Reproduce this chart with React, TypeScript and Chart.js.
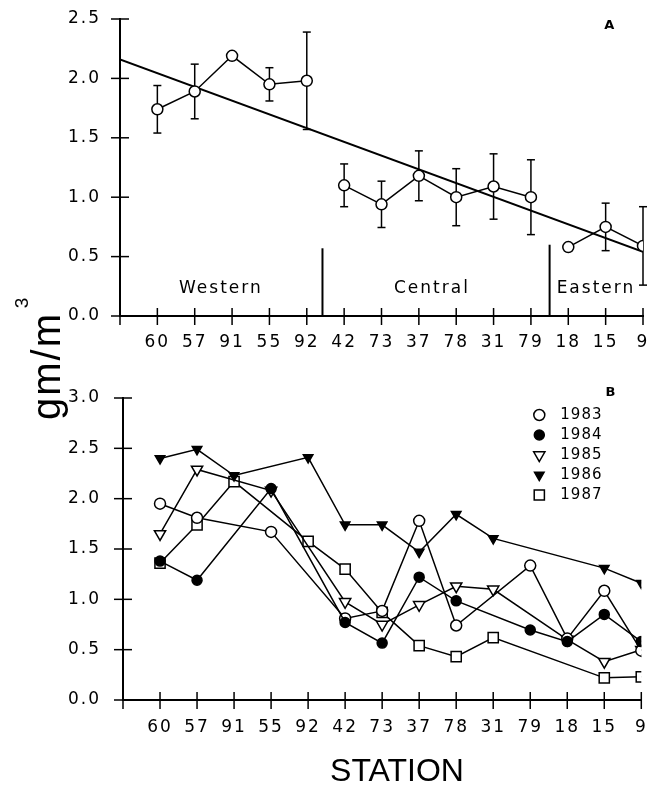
import React, { useEffect, useRef } from 'react';
import { Chart, registerables } from 'chart.js';

Chart.register(...registerables);

// ---------------- data ----------------
const stations = ['60', '57', '91', '55', '92', '42', '73', '37', '78', '31', '79', '18', '15', '9'];
const regionOfStation = [
  'Western', 'Western', 'Western', 'Western', 'Western',
  'Central', 'Central', 'Central', 'Central', 'Central', 'Central',
  'Eastern', 'Eastern', 'Eastern',
];
const regionNames = ['Western', 'Central', 'Eastern'];
const regionLabelX = [2.7, 8.35, 12.74];
const regionLabelY = 0.235;
const dividerX = [5.42, 11.5];
const dividerTop = [0.57, 0.6];

// Panel A: means and +/- error
const meanA = [1.74, 1.89, 2.19, 1.95, 1.98, 1.1, 0.94, 1.18, 1.0, 1.09, 1.0, 0.58, 0.75, 0.59];
const errA = [0.2, 0.23, null, 0.14, 0.41, 0.18, 0.195, 0.21, 0.24, 0.275, 0.315, null, 0.2, 0.33];
const regressionStart = 2.16; // value at the origin
const regressionEnd = 0.54; // value at the last station

const xTickValues = [0, ...stations.map((_, i) => i + 1)];
const yTicksA = [0, 0.5, 1, 1.5, 2, 2.5];
const yTicksB = [0, 0.5, 1, 1.5, 2, 2.5, 3];

// Panel B: yearly values
const years = ['1983', '1984', '1985', '1986', '1987'];
const y1983 = [1.95, 1.81, null, 1.67, null, 0.81, 0.885, 1.78, 0.74, null, 1.335, 0.61, 1.085, 0.49];
const y1984 = [1.38, 1.19, null, 2.1, null, 0.77, 0.565, 1.22, 0.985, null, 0.695, 0.58, 0.85, 0.58];
const y1985 = [1.65, 2.29, null, 2.08, null, 0.975, 0.75, 0.945, 1.13, 1.1, null, 0.6, 0.38, 0.5];
const y1986 = [2.4, 2.49, 2.23, null, 2.41, 1.74, 1.74, 1.47, 1.845, 1.605, null, null, 1.31, 1.16];
const y1987 = [1.36, 1.74, 2.17, null, 1.575, 1.3, 0.87, 0.54, 0.43, 0.62, null, null, 0.22, 0.23];
const seriesB = [y1983, y1984, y1985, y1986, y1987];

// ---------------- styles ----------------
const markers = [
  { style: 'circle', fill: '#fff', r: 5.5, rot: 0, order: 2 },
  { style: 'circle', fill: '#000', r: 5, rot: 0, order: 0 },
  { style: 'triangle', fill: '#fff', r: 6.5, rot: 180, order: 3 },
  { style: 'triangle', fill: '#000', r: 5.5, rot: 180, order: 1 },
  { style: 'rect', fill: '#fff', r: 7.2, rot: 0, order: 4 },
];
const TICK_FONT = { family: 'DejaVu Sans', size: 17 };

function line(ctx: CanvasRenderingContext2D, x1: number, y1: number, x2: number, y2: number) {
  ctx.beginPath();
  ctx.moveTo(x1, y1);
  ctx.lineTo(x2, y2);
  ctx.stroke();
}

function drawSymbol(ctx: CanvasRenderingContext2D, m: any, x: number, y: number) {
  ctx.beginPath();
  if (m.style === 'circle') {
    ctx.arc(x, y, m.r, 0, Math.PI * 2);
  } else if (m.style === 'triangle') {
    let rad = (m.rot * Math.PI) / 180;
    for (let k = 0; k < 3; k++) {
      const px = x + Math.sin(rad) * m.r;
      const py = y - Math.cos(rad) * m.r;
      if (k === 0) ctx.moveTo(px, py);
      else ctx.lineTo(px, py);
      rad += (2 * Math.PI) / 3;
    }
    ctx.closePath();
  } else {
    const s = Math.SQRT1_2 * m.r;
    ctx.rect(x - s, y - s, 2 * s, 2 * s);
  }
  ctx.fillStyle = m.fill;
  ctx.fill();
  ctx.lineWidth = 1.5;
  ctx.strokeStyle = '#000';
  ctx.stroke();
}

const spacingPlugin = {
  id: 'spacing',
  beforeDraw(chart: any) {
    chart.ctx.letterSpacing = '2px';
  },
};

const crossTicksPlugin = {
  id: 'crossTicks',
  afterDraw(chart: any) {
    const { ctx, chartArea, scales } = chart;
    ctx.save();
    ctx.strokeStyle = '#000';
    ctx.lineWidth = 1.5;
    scales.x.ticks.forEach((t: any) => {
      const px = scales.x.getPixelForValue(t.value);
      line(ctx, px, chartArea.bottom - 8, px, chartArea.bottom + 9);
    });
    scales.y.ticks.forEach((t: any) => {
      const py = scales.y.getPixelForValue(t.value);
      line(ctx, chartArea.left - 9, py, chartArea.left + 9, py);
    });
    ctx.restore();
  },
};

// Label offsets are set through tickLength (tick marks themselves are drawn by crossTicksPlugin)
function baseOptions(yMax: number, yTicks: number[], yWidth: number, yGap: number, xGap: number, xHeight: number, padding: any) {
  return {
    animation: false,
    responsive: false,
    maintainAspectRatio: false,
    layout: { padding },
    plugins: { legend: { display: false }, tooltip: { enabled: false } },
    scales: {
      x: {
        type: 'linear',
        min: 0,
        max: stations.length,
        afterBuildTicks: (s: any) => {
          s.ticks = xTickValues.map((v) => ({ value: v }));
        },
        afterFit: (s: any) => {
          s.height = xHeight;
        },
        ticks: {
          autoSkip: false,
          maxRotation: 0,
          minRotation: 0,
          padding: 0,
          color: '#000',
          font: TICK_FONT,
          callback: (v: any) => (v >= 1 ? stations[Math.round(v) - 1] : ''),
        },
        grid: { display: false, drawTicks: true, tickLength: xGap },
        border: { display: true, color: '#000', width: 2 },
      },
      y: {
        type: 'linear',
        min: 0,
        max: yMax,
        afterBuildTicks: (s: any) => {
          s.ticks = yTicks.map((v) => ({ value: v }));
        },
        afterFit: (s: any) => {
          s.width = yWidth;
        },
        ticks: {
          padding: 0,
          color: '#000',
          font: TICK_FONT,
          callback: (v: any) => Number(v).toFixed(1),
        },
        grid: { display: false, drawTicks: true, tickLength: yGap },
        border: { display: true, color: '#000', width: 2 },
      },
    },
  };
}

export default function App() {
  const refA = useRef<HTMLCanvasElement>(null);
  const refB = useRef<HTMLCanvasElement>(null);

  useEffect(() => {
    // ---------- Panel A ----------
    const meanPoints: any[] = [];
    stations.forEach((_, i) => {
      if (i > 0 && regionOfStation[i] !== regionOfStation[i - 1]) meanPoints.push({ x: i + 0.5, y: null });
      meanPoints.push({ x: i + 1, y: meanA[i] });
    });

    const panelAPlugin = {
      id: 'panelA',
      beforeDatasetsDraw(chart: any) {
        const { ctx, scales } = chart;
        ctx.save();
        ctx.strokeStyle = '#000';
        ctx.lineWidth = 1.5;
        meanA.forEach((m, i) => {
          const e = errA[i];
          if (e == null) return;
          const px = scales.x.getPixelForValue(i + 1);
          const top = scales.y.getPixelForValue(m + e);
          const bot = scales.y.getPixelForValue(m - e);
          line(ctx, px, top, px, bot);
          line(ctx, px - 4, top, px + 4, top);
          line(ctx, px - 4, bot, px + 4, bot);
        });
        ctx.restore();
      },
      afterDatasetsDraw(chart: any) {
        const { ctx, scales } = chart;
        ctx.save();
        ctx.strokeStyle = '#000';
        ctx.lineWidth = 2;
        dividerX.forEach((dx, k) => {
          const px = scales.x.getPixelForValue(dx);
          line(ctx, px, scales.y.getPixelForValue(0), px, scales.y.getPixelForValue(dividerTop[k]));
        });
        ctx.fillStyle = '#000';
        ctx.font = '17px "DejaVu Sans"';
        ctx.letterSpacing = '2px';
        ctx.textAlign = 'center';
        ctx.textBaseline = 'middle';
        regionNames.forEach((name, k) => {
          ctx.fillText(name, scales.x.getPixelForValue(regionLabelX[k]), scales.y.getPixelForValue(regionLabelY));
        });
        ctx.font = 'bold 13px "DejaVu Sans"';
        ctx.letterSpacing = '0px';
        ctx.fillText('A', scales.x.getPixelForValue(13.1), scales.y.getPixelForValue(2.445));
        ctx.restore();
      },
    };

    const chartA = new Chart(refA.current as HTMLCanvasElement, {
      type: 'line',
      data: {
        datasets: [
          {
            label: 'mean',
            data: meanPoints,
            borderColor: '#000',
            borderWidth: 1.5,
            pointStyle: 'circle',
            pointRadius: 5.5,
            pointBackgroundColor: '#fff',
            pointBorderColor: '#000',
            pointBorderWidth: 1.5,
            spanGaps: false,
            order: 0,
          },
          {
            label: 'regression',
            data: [
              { x: 0, y: regressionStart },
              { x: stations.length, y: regressionEnd },
            ],
            borderColor: '#000',
            borderWidth: 2,
            pointRadius: 0,
            order: 1,
          },
        ],
      },
      options: baseOptions(2.5, yTicksA, 120, 19, 16, 44, { left: 0, right: 7, top: 19, bottom: 0 }) as any,
      plugins: [spacingPlugin, crossTicksPlugin, panelAPlugin],
    } as any);

    // ---------- Panel B ----------
    const legendPlugin = {
      id: 'legendB',
      afterDraw(chart: any) {
        const { ctx, chartArea, scales } = chart;
        ctx.save();
        const symX = chartArea.right - 102;
        const txtX = chartArea.right - 81;
        years.forEach((yr, k) => {
          const yy = chartArea.top + 17 + k * 20;
          drawSymbol(ctx, markers[k], symX, yy);
          ctx.fillStyle = '#000';
          ctx.font = '15px "DejaVu Sans"';
          ctx.letterSpacing = '1px';
          ctx.textAlign = 'left';
          ctx.textBaseline = 'middle';
          ctx.fillText(yr, txtX, yy);
        });
        ctx.font = 'bold 13px "DejaVu Sans"';
        ctx.letterSpacing = '0px';
        ctx.textAlign = 'center';
        ctx.fillText('B', scales.x.getPixelForValue(13.17), chartArea.top - 5);
        ctx.restore();
      },
    };

    const chartB = new Chart(refB.current as HTMLCanvasElement, {
      type: 'line',
      data: {
        datasets: years.map((yr, k) => ({
          label: yr,
          data: seriesB[k].map((v, i) => ({ x: i + 1, y: v })),
          borderColor: '#000',
          borderWidth: 1.5,
          pointStyle: markers[k].style,
          pointRotation: markers[k].rot,
          pointRadius: markers[k].r,
          pointBackgroundColor: markers[k].fill,
          pointBorderColor: '#000',
          pointBorderWidth: 1.5,
          spanGaps: true,
          order: markers[k].order,
        })),
      },
      options: baseOptions(3, yTicksB, 123, 22, 17, 93, { left: 0, right: 6, top: 38, bottom: 0 }) as any,
      plugins: [spacingPlugin, crossTicksPlugin, legendPlugin],
    } as any);

    return () => {
      chartA.destroy();
      chartB.destroy();
    };
  }, []);

  const rotated = (cx: number, cy: number, size: number): React.CSSProperties => ({
    position: 'absolute',
    left: cx,
    top: cy,
    transform: 'translate(-50%, -50%) rotate(-90deg)',
    fontFamily: '"Liberation Sans", Arial, sans-serif',
    fontSize: size,
    lineHeight: `${size}px`,
    whiteSpace: 'nowrap',
    color: '#000',
  });

  return (
    <div style={{ position: 'absolute', left: 0, top: 0, width: 650, height: 793, background: '#fff' }}>
      <canvas ref={refA} width={650} height={360} style={{ position: 'absolute', left: 0, top: 0, display: 'block' }} />
      <canvas ref={refB} width={650} height={433} style={{ position: 'absolute', left: 0, top: 360, display: 'block' }} />
      <div style={{ ...rotated(46, 366, 40), letterSpacing: '2px' }}>gm/m</div>
      <div style={rotated(21.4, 302.5, 19)}>3</div>
      <div
        style={{
          position: 'absolute',
          left: 397,
          top: 770,
          transform: 'translate(-50%, -50%)',
          fontFamily: '"Liberation Sans", Arial, sans-serif',
          fontSize: 32,
          lineHeight: '32px',
          whiteSpace: 'nowrap',
          color: '#000',
        }}
      >
        STATION
      </div>
    </div>
  );
}
